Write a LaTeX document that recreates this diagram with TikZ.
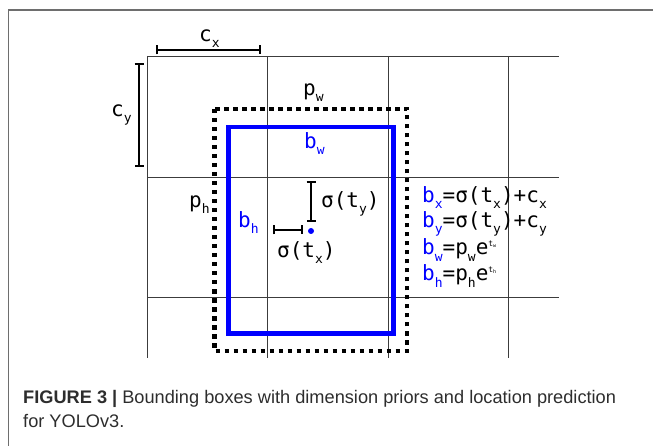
\documentclass[tikz,border=0pt]{standalone}
\usepackage{fontspec}
\setmainfont{Liberation Sans}
\newfontfamily\lblfont{DejaVu Sans Mono}
\usetikzlibrary{arrows.meta,positioning}

% subindices y superindices del dibujo
\newcommand{\lo}[1]{\raisebox{-6pt}{\fontsize{13}{13}\selectfont #1}}
\newcommand{\hi}[2]{\raisebox{9pt}{\fontsize{8}{8}\selectfont #1\raisebox{-2pt}{\fontsize{5}{5}\selectfont #2}}}

\begin{document}
\begin{tikzpicture}[x=1pt, y=-1pt]
  % Definición de colores
  \definecolor{predblue}{RGB}{0, 0, 255}   % Azul de la caja predicha
  \definecolor{gridgray}{RGB}{60, 60, 60}  % Gris de la rejilla
  \definecolor{framegray}{RGB}{110, 110, 110}
  \definecolor{captiontext}{RGB}{45, 45, 45}

  \tikzset{
    gridline/.style={gridgray, line width=0.9pt},
    prior/.style={black, line width=4.5pt, dash pattern=on 4.5pt off 4.5pt},
    pred/.style={predblue, line width=4.5pt},
    dimbar/.style={black, line width=1.8pt, {Bar[width=9pt]}-{Bar[width=9pt]}},
    lbl/.style={font=\lblfont\fontsize{21}{21}\selectfont, inner sep=0pt, anchor=base west},
    eqlbl/.style={lbl, text=black}
  }

  \useasboundingbox (0,0) rectangle (653,446);

  % --- Marco de la figura ---
  \draw[framegray, line width=1.5pt] (8.5,446) -- (8.5,10) -- (653,10);

  % --- Rejilla ---
  \foreach \gx in {147, 267.5, 388, 508}
    \draw[gridline] (\gx,56) -- (\gx,358);
  \foreach \gy in {56, 177, 297}
    \draw[gridline] (147,\gy) -- (559,\gy);

  % --- Caja a priori (punteada) y caja predicha (azul) ---
  \draw[prior] (214.5,109) rectangle (407,351);
  \draw[pred] (228.5,127) rectangle (393.5,333.5);

  % --- Cotas de la celda ---
  \coordinate (cxA) at (156,50);
  \coordinate (cxB) at (261,50);
  \coordinate (cyA) at (139,63);
  \coordinate (cyB) at (139,167);
  \draw[dimbar] (cxA) -- (cxB);
  \draw[dimbar] (cyA) -- (cyB);
  \node[lbl] (cxlbl) at (199,42) {c\lo{x}};
  \node[lbl] (cylbl) at (111,117) {c\lo{y}};

  % --- Etiquetas de las cajas ---
  \node[lbl] (pwlbl) at (303,96) {p\lo{w}};
  \node[lbl, text=predblue] (bwlbl) at (304,149) {b\lo{w}};
  \node[lbl] (phlbl) at (189,208) {p\lo{h}};
  \node[lbl, text=predblue] (bhlbl) at (238,228) {b\lo{h}};

  % --- Desplazamiento del centro ---
  \node[circle, fill=predblue, inner sep=0pt, minimum size=6pt] (ctr) at (311,231) {};
  \coordinate (tyA) at (311,181);
  \coordinate (tyB) at (311,222);
  \coordinate (txA) at (273,230);
  \coordinate (txB) at (303,230);
  \draw[dimbar] (tyA) -- (tyB);
  \draw[dimbar] (txA) -- (txB);
  \node[lbl] (tylbl) at (321,208) {σ(t\lo{y})};
  \node[lbl] (txlbl) at (277,258) {σ(t\lo{x})};

  % --- Ecuaciones ---
  \node[eqlbl] (eqx) at (422,203) {\textcolor{predblue}{b\lo{x}}=σ(t\lo{x})+c\lo{x}};
  \node[eqlbl] (eqy) at (422,228) {\textcolor{predblue}{b\lo{y}}=σ(t\lo{y})+c\lo{y}};
  \node[eqlbl] (eqw) at (422,255) {\textcolor{predblue}{b\lo{w}}=p\lo{w}e\hi{t}{w}};
  \node[eqlbl] (eqh) at (422,281) {\textcolor{predblue}{b\lo{h}}=p\lo{h}e\hi{t}{h}};

  % --- Pie de figura ---
  \node[anchor=north west, inner sep=0pt, align=left, text=captiontext,
        font=\fontsize{18.2}{24}\selectfont] (caption) at (23,390)
    {\textbf{FIGURE 3 |} Bounding boxes with dimension priors and location prediction\\
     for YOLOv3.};
\end{tikzpicture}
\end{document}
